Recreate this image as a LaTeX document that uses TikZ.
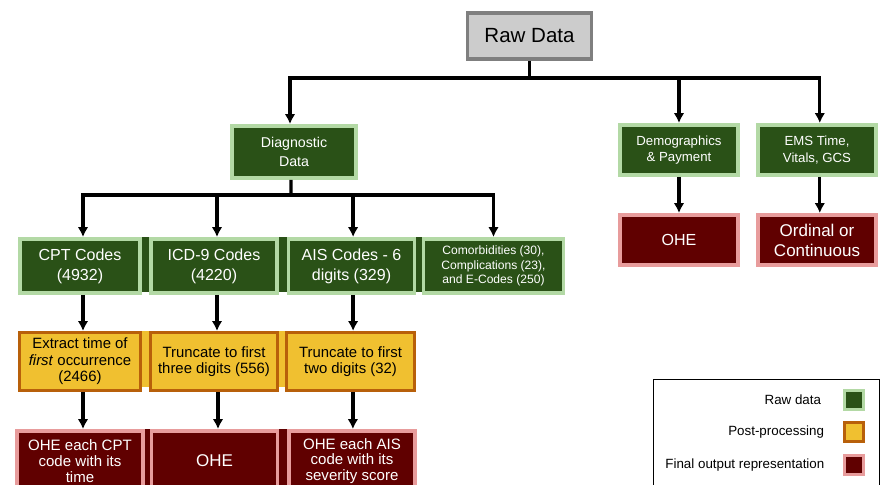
\documentclass[tikz,border=0pt]{standalone}
\usepackage{fontspec}
\setmainfont{Liberation Sans}
\usetikzlibrary{arrows.meta}

\definecolor{rawfill}{HTML}{CCCCCC}
\definecolor{rawline}{HTML}{7F7F7F}
\definecolor{greenfill}{HTML}{2A5117}
\definecolor{greenline}{HTML}{B3D9A5}
\definecolor{orangefill}{HTML}{F0C030}
\definecolor{orangeline}{HTML}{B8600A}
\definecolor{redfill}{HTML}{600000}
\definecolor{redline}{HTML}{E89C9C}

\tikzset{
  box/.style={draw, line width=2.5pt, align=center, inner sep=1pt},
  rawbox/.style={box, draw=rawline, fill=rawfill, text=black},
  greenbox/.style={box, draw=greenline, fill=greenfill, text=white},
  orangebox/.style={box, line width=2.2pt, draw=orangeline, fill=orangefill, text=black},
  redbox/.style={box, draw=redline, fill=redfill, text=white},
  swatch/.style={line width=2pt, minimum size=4.8mm, inner sep=0pt},
  link/.style={line width=2.4pt, -{Latex[length=7pt,width=7.5pt]}},
}

\begin{document}
\begin{tikzpicture}[x=0.25mm,y=-0.25mm]
  \useasboundingbox (0,0) rectangle (880,485);
  \clip (0,0) rectangle (880,485);
  % strips behind the rows
  \fill[greenfill] (18,237) rectangle (565,292);
  \fill[orangefill] (18,331) rectangle (416,387);
  \fill[redfill] (15,429) rectangle (417,490);

  \node[rawbox, minimum width=30.9mm, minimum height=11.6mm, font=\fontsize{14.6}{17}\selectfont] (raw) at (529.5,36) {Raw Data};

  \node[greenbox, minimum width=31.1mm, minimum height=13.1mm, font=\fontsize{10.1}{13.2}\selectfont] (diag) at (294,152) {Diagnostic\\Data};
  \node[greenbox, minimum width=29.6mm, minimum height=12.6mm, font=\fontsize{9.4}{11.8}\selectfont] (demo) at (679,150) {Demographics\\\& Payment};
  \node[greenbox, minimum width=29.6mm, minimum height=12.6mm, font=\fontsize{9.4}{11.8}\selectfont] (ems) at (817,150) {EMS Time,\\Vitals, GCS};

  \node[redbox, minimum width=29.6mm, minimum height=12.6mm, font=\fontsize{11.4}{14}\selectfont] (demoohe) at (679,240) {OHE};
  \node[redbox, minimum width=29.6mm, minimum height=12.6mm, font=\fontsize{12.1}{14.2}\selectfont] (emsout) at (817,240) {Ordinal or\\Continuous};

  % codes row
  \node[greenbox, minimum width=30.1mm, minimum height=13.6mm, font=\fontsize{11.4}{14.2}\selectfont] (cpt) at (80,266) {CPT Codes\\(4932)};
  \node[greenbox, minimum width=31.6mm, minimum height=13.6mm, font=\fontsize{11.4}{14.2}\selectfont] (icd) at (214,266) {ICD-9 Codes\\(4220)};
  \node[greenbox, minimum width=31.4mm, minimum height=13.6mm, font=\fontsize{11.4}{14.2}\selectfont] (ais) at (351.5,266) {AIS Codes - 6\\digits (329)};
  \node[greenbox, minimum width=34.9mm, minimum height=13.6mm, font=\fontsize{8.6}{10.3}\selectfont] (comorb) at (493.5,266) {Comorbidities (30),\\Complications (23),\\and E-Codes (250)};

  % post-processing row
  \node[orangebox, minimum width=30.2mm, minimum height=14.5mm, font=\fontsize{10.6}{11.8}\selectfont] (extract) at (80,361.5) {Extract time of\\\textit{first} occurrence\\(2466)};
  \node[orangebox, minimum width=31.7mm, minimum height=14.5mm, font=\fontsize{10.6}{11.8}\selectfont] (trunc3) at (214,361.5) {Truncate to first\\three digits (556)};
  \node[orangebox, minimum width=32.0mm, minimum height=14.5mm, font=\fontsize{10.6}{11.8}\selectfont] (trunc2) at (350.5,361.5) {Truncate to first\\two digits (32)};

  % output row
  \node[redbox, minimum width=31.6mm, minimum height=15.1mm, font=\fontsize{10.7}{11.3}\selectfont] (cptohe) at (80,461) {OHE each CPT\\code with its\\time};
  \node[redbox, minimum width=31.4mm, minimum height=15.1mm, font=\fontsize{12.1}{14}\selectfont] (ohe) at (214.5,461) {OHE};
  \node[redbox, minimum width=31.6mm, minimum height=15.1mm, font=\fontsize{10.7}{11.3}\selectfont] (aisohe) at (352,461) {OHE each AIS\\code with its\\severity score};

  % connectors
  \coordinate (rawbus) at (529.5,78);
  \draw[line width=2.4pt] (raw.south) -- (rawbus);
  \draw[link] (rawbus) -| ([xshift=-1mm]diag.north);
  \draw[link] (rawbus) -| (demo.north);
  \draw[link] (rawbus) -| ([xshift=0.7mm]ems.north);
  \coordinate (diagbus) at (291,195);
  \draw[line width=2.4pt] ([xshift=-0.75mm]diag.south) -- (diagbus);
  \draw[link] (diagbus) -| ([xshift=0.75mm]cpt.north);
  \draw[link] (diagbus) -| ([xshift=0.75mm]icd.north);
  \draw[link] (diagbus) -| ([xshift=0.4mm]ais.north);
  \draw[link] (diagbus) -| (comorb.north);
  \draw[link] (demo.south) -- (demoohe.north);
  \draw[link] ([xshift=0.7mm]ems.south) -- ([xshift=0.7mm]emsout.north);
  \draw[link] ([xshift=0.75mm]cpt.south) -- ([xshift=0.75mm]cpt.south |- extract.north);
  \draw[link] ([xshift=0.75mm]icd.south) -- ([xshift=0.75mm]icd.south |- trunc3.north);
  \draw[link] ([xshift=0.4mm]ais.south) -- ([xshift=0.4mm]ais.south |- trunc2.north);
  \draw[link] ([xshift=0.75mm]extract.south) -- ([xshift=0.75mm]extract.south |- cptohe.north);
  \draw[link] ([xshift=1mm]trunc3.south) -- ([xshift=1mm]trunc3.south |- ohe.north);
  \draw[link] ([xshift=0.6mm]trunc2.south) -- ([xshift=0.6mm]trunc2.south |- aisohe.north);

  % legend
  \draw[line width=0.7pt] (653,379) rectangle (879,500);
  \node[swatch, draw=greenline, fill=greenfill] (keyraw) at (854,400) {};
  \node[swatch, draw=orangeline, fill=orangefill] (keypost) at (854,432) {};
  \node[swatch, draw=redline, fill=redfill] (keyfinal) at (854,465) {};
  \node[anchor=east, font=\fontsize{9.5}{10}\selectfont] (txtraw) at (826,400) {Raw data};
  \node[anchor=east, font=\fontsize{9.5}{10}\selectfont] (txtpost) at (829,432) {Post-processing};
  \node[anchor=east, font=\fontsize{9.5}{10}\selectfont, inner xsep=1pt] (txtfinal) at (826,465) {Final output representation};
\end{tikzpicture}
\end{document}
